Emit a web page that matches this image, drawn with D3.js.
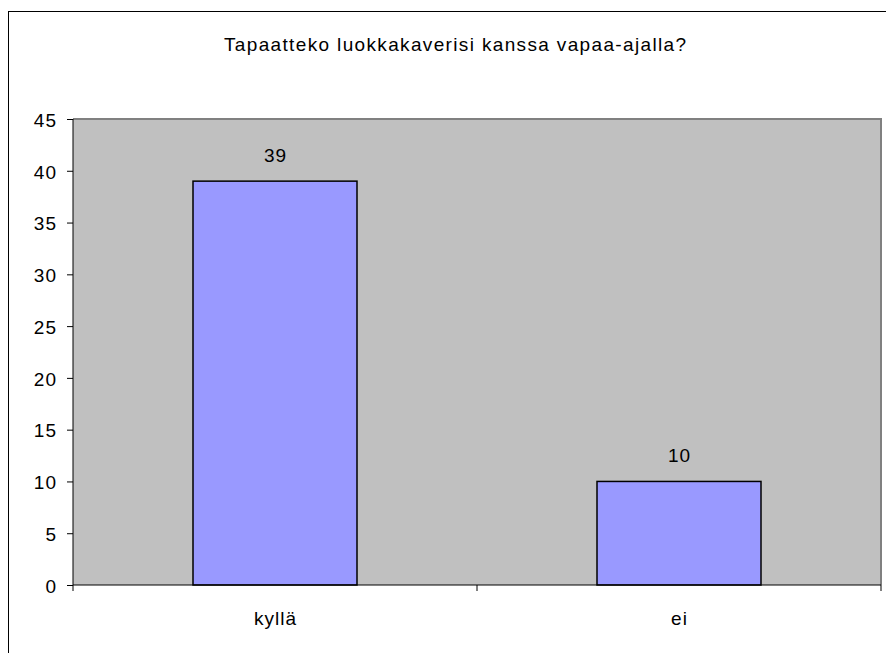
<!DOCTYPE html>
<html><head><meta charset="utf-8">
<script src="https://cdn.jsdelivr.net/npm/d3@7"></script>
<style>body{margin:0;background:#fff}svg{display:block}</style>
</head><body>
<script>
const title = "Tapaatteko luokkakaverisi kanssa vapaa-ajalla?";
const categories = ["kyllä", "ei"];
const values = [39, 10];
const yTicks = [0, 5, 10, 15, 20, 25, 30, 35, 40, 45];

const W = 886, H = 653;
const font = "'Liberation Sans', Arial, sans-serif";
const svg = d3.select("body").append("svg").attr("width", W).attr("height", H);

// outer chart frame
svg.append("rect").attr("x", 8.5).attr("y", 11.5).attr("width", 886).attr("height", 660)
  .attr("fill", "#fff").attr("stroke", "#000").attr("stroke-width", 1);

const L = 73, R = 881, T = 119, B = 585;
const x = d3.scaleBand().domain(categories).range([L, R]).paddingInner(0).paddingOuter(0);
const y = d3.scaleLinear().domain([0, 45]).range([B, T]);

// plot area
svg.append("rect").attr("x", L).attr("y", T).attr("width", R - L).attr("height", B - T)
  .attr("fill", "#C0C0C0");
svg.append("path").attr("d", `M${L},${T}H${R}V${B}`).attr("fill", "none")
  .attr("stroke", "#808080").attr("stroke-width", 2);

// bars
const bw = 164;
svg.selectAll("rect.bar").data(values).enter().append("rect").attr("class", "bar")
  .attr("x", (d, i) => x(categories[i]) + x.bandwidth() / 2 - bw / 2)
  .attr("y", d => y(d))
  .attr("width", bw)
  .attr("height", d => y(0) - y(d))
  .attr("fill", "#9999FF").attr("stroke", "#000").attr("stroke-width", 1.5);

// value labels
svg.selectAll("text.val").data(values).enter().append("text").attr("class", "val")
  .attr("x", (d, i) => x(categories[i]) + x.bandwidth() / 2 + 0.5)
  .attr("y", d => y(d) - 19)
  .attr("text-anchor", "middle").attr("font-family", font).attr("font-size", 19)
  .attr("letter-spacing", 1).attr("fill", "#000").text(d => d);

// y axis
const yAxis = svg.append("g").attr("transform", `translate(${L},0)`)
  .call(d3.axisLeft(y).tickValues(yTicks).tickSize(6).tickPadding(10).tickFormat(d3.format("d")));
yAxis.select(".domain").attr("stroke", "#000").attr("d", `M0,${T}V${B}`);
yAxis.selectAll(".tick line").attr("stroke", "#000");
yAxis.selectAll(".tick text").attr("font-family", font).attr("font-size", 19).attr("fill", "#000")
  .attr("letter-spacing", 1).attr("dy", "0.38em");

// x axis
const xAxis = svg.append("g").attr("transform", `translate(0,${B})`)
  .call(d3.axisBottom(x).tickSize(0).tickPadding(27));
xAxis.select(".domain").attr("stroke", "#000").attr("d", `M${L},0H${R}`);
xAxis.selectAll(".tick text").attr("font-family", font).attr("font-size", 19).attr("fill", "#000")
  .attr("letter-spacing", 1).attr("dx", "0.5");
const bounds = [L, (L + R) / 2, R];
xAxis.selectAll("line.sep").data(bounds).enter().append("line").attr("class", "sep")
  .attr("x1", d => d).attr("x2", d => d).attr("y1", 0).attr("y2", 6).attr("stroke", "#000");

// title
svg.append("text").attr("x", 455.7).attr("y", 51).attr("text-anchor", "middle")
  .attr("font-family", font).attr("font-size", 19).attr("letter-spacing", 1.35)
  .attr("fill", "#000").text(title);
</script>
</body></html>
